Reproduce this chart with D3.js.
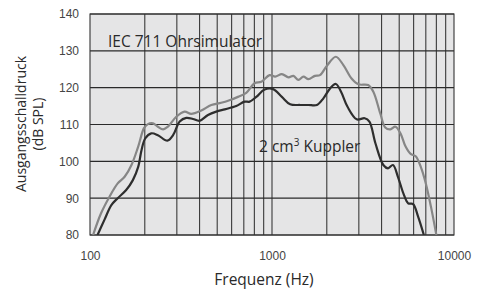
<!DOCTYPE html>
<html>
<head>
<meta charset="utf-8">
<script src="https://cdn.jsdelivr.net/npm/d3@7"></script>
<style>
  html, body { margin: 0; padding: 0; background: #ffffff; }
  svg { display: block; }
</style>
</head>
<body>
<svg id="chart" width="479" height="289"></svg>
<script>
// ---- data ----
const iecFreq = [104, 115, 128, 142, 155, 169, 184, 198, 208, 222, 236, 252, 268, 298, 331, 360, 409, 464, 526, 584, 650, 722, 802, 874, 970, 1041, 1133, 1232, 1311, 1397, 1489, 1585, 1722, 1834, 2000, 2242, 2462, 2736, 2990, 3375, 3604, 3935, 4190, 4470, 4766, 5080, 5420, 5780, 6160, 6570, 7000, 7470, 8000];
const iecDb   = [80, 85.9, 90.4, 94.0, 95.8, 99.0, 104.0, 109.0, 110.1, 110.3, 109.4, 108.7, 109.4, 112.1, 113.5, 112.9, 113.8, 115.3, 115.9, 116.6, 117.5, 118.6, 121.2, 121.6, 123.4, 123.0, 123.7, 122.8, 123.2, 122.1, 123.0, 122.3, 123.2, 123.4, 125.9, 128.4, 126.2, 122.5, 120.9, 120.7, 118.9, 113.0, 109.2, 108.7, 109.4, 107.6, 104.0, 102.0, 101.4, 98.5, 94.0, 87.7, 80];

const ccFreq = [110, 120, 131, 142, 158, 172, 184, 192, 201, 217, 236, 266, 286, 311, 338, 368, 400, 445, 494, 550, 597, 636, 707, 753, 820, 911, 1014, 1133, 1258, 1428, 1585, 1764, 1916, 2085, 2242, 2395, 2600, 2920, 3230, 3430, 3700, 4090, 4340, 4620, 4920, 5270, 5600, 5960, 6350, 6830];
const ccDb   = [80, 84.1, 88.1, 90.0, 92.2, 94.9, 98.5, 103.1, 106.2, 107.6, 107.1, 105.6, 107.1, 110.8, 111.8, 111.5, 111.0, 112.6, 113.5, 114.1, 114.6, 115.0, 116.2, 116.2, 117.5, 119.5, 119.6, 117.5, 115.5, 115.3, 115.3, 115.3, 117.1, 119.8, 121.0, 118.9, 114.8, 111.4, 111.7, 110.8, 104.9, 99.0, 98.1, 99.0, 95.8, 91.3, 88.6, 88.4, 85.0, 80];

const yTicks = [80, 90, 100, 110, 120, 130, 140];
const xLabelTicks = [100, 1000, 10000];
const xGridTicks = [200, 300, 400, 500, 600, 700, 800, 900, 1000, 2000, 3000, 4000, 5000, 6000, 7000, 8000, 9000];
const iecLabel = "IEC 711 Ohrsimulator";
const xTitle = "Frequenz (Hz)";
const yTitle1 = "Ausgangsschalldruck";
const yTitle2 = "(dB SPL)";

// ---- layout ----
const W = 479, H = 289;
const m = { left: 90, right: 25, top: 14, bottom: 54 };
const pw = W - m.left - m.right, ph = H - m.top - m.bottom;

const svg = d3.select("#chart");
const x = d3.scaleLog().domain([100, 10000]).range([m.left, m.left + pw]);
const y = d3.scaleLinear().domain([80, 140]).range([m.top + ph, m.top]);

// plot background
svg.append("rect").attr("x", m.left).attr("y", m.top).attr("width", pw).attr("height", ph)
  .attr("fill", "#e5e5e6");

svg.append("defs").append("clipPath").attr("id", "clip")
  .append("rect").attr("x", m.left).attr("y", m.top).attr("width", pw).attr("height", ph);

// vertical grid
svg.append("g").selectAll("line").data(xGridTicks).join("line")
  .attr("x1", d => x(d)).attr("x2", d => x(d))
  .attr("y1", m.top).attr("y2", m.top + ph)
  .attr("stroke", "#3a3a3a").attr("stroke-width", 1.1);

// horizontal grid
svg.append("g").selectAll("line").data(yTicks).join("line")
  .attr("x1", m.left).attr("x2", m.left + pw)
  .attr("y1", d => y(d)).attr("y2", d => y(d))
  .attr("stroke", "#2a2a2a").attr("stroke-width", 1.1);

// frame
svg.append("rect").attr("x", m.left).attr("y", m.top).attr("width", pw).attr("height", ph)
  .attr("fill", "none").attr("stroke", "#333").attr("stroke-width", 1.1);

// curves
const line = d3.line().x(d => x(d[0])).y(d => y(d[1])).curve(d3.curveCatmullRom.alpha(0.5));
const gCurves = svg.append("g").attr("clip-path", "url(#clip)");
gCurves.append("path").datum(d3.zip(iecFreq, iecDb)).attr("d", line)
  .attr("fill", "none").attr("stroke", "#868686").attr("stroke-width", 2.2)
  .attr("stroke-linejoin", "round");
gCurves.append("path").datum(d3.zip(ccFreq, ccDb)).attr("d", line)
  .attr("fill", "none").attr("stroke", "#2e2e2e").attr("stroke-width", 2.2)
  .attr("stroke-linejoin", "round");

// y axis labels
const yAxis = d3.axisLeft(y).tickValues(yTicks).tickSize(0).tickPadding(11);
const gy = svg.append("g").attr("transform", `translate(${m.left},0)`).call(yAxis);
gy.select(".domain").remove();
gy.selectAll("text").attr("font-family", "Liberation Sans, Arial, sans-serif")
  .attr("font-size", 12).attr("fill", "#444");

// x axis labels
const xAxis = d3.axisBottom(x).tickValues(xLabelTicks).tickFormat(d3.format("d")).tickSize(0).tickPadding(16);
const gx = svg.append("g").attr("transform", `translate(0,${m.top + ph})`).call(xAxis);
gx.select(".domain").remove();
gx.selectAll("text").attr("font-family", "Liberation Sans, Arial, sans-serif")
  .attr("font-size", 12).attr("fill", "#444");

// titles
svg.append("text").attr("x", 264).attr("y", 285).attr("text-anchor", "middle")
  .attr("font-family", "Open Sans, sans-serif").attr("font-size", 15.5).attr("fill", "#2a2a2a")
  .text(xTitle);

const yt = svg.append("text").attr("transform", `translate(26,${124}) rotate(-90)`)
  .attr("text-anchor", "middle").attr("font-family", "Open Sans, sans-serif")
  .attr("font-size", 14).attr("fill", "#2a2a2a");
yt.append("tspan").attr("x", 0).attr("dy", 0).text(yTitle1);
yt.append("tspan").attr("x", 0).attr("dy", 17).text(yTitle2);

// annotations
svg.append("text").attr("x", 108).attr("y", 47)
  .attr("font-family", "Open Sans, sans-serif").attr("font-size", 15.5).attr("fill", "#2a2a2a")
  .text(iecLabel);

const cc = svg.append("text").attr("x", 259).attr("y", 151.5)
  .attr("font-family", "Open Sans, sans-serif").attr("font-size", 15.5).attr("fill", "#2a2a2a");
cc.append("tspan").text("2 cm");
cc.append("tspan").attr("dy", -6).attr("font-size", 10).text("3");
cc.append("tspan").attr("dy", 6).text(" Kuppler");
</script>
</body>
</html>
